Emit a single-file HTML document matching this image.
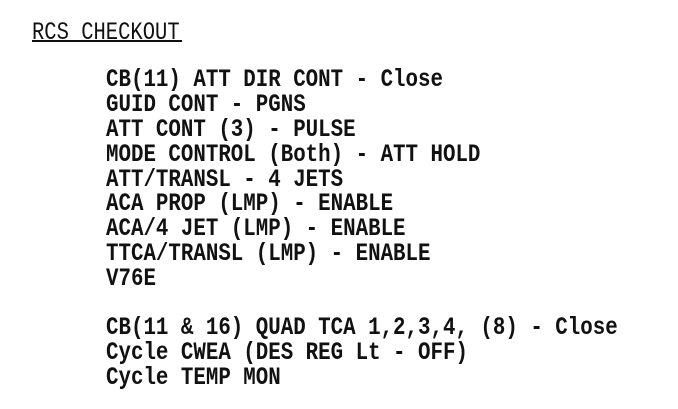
<!DOCTYPE html>
<html><head><style>
html,body{margin:0;padding:0;background:#fff;}
body{width:678px;height:409px;position:relative;overflow:hidden;}
.l{position:absolute;font-family:"Liberation Mono",monospace;font-size:20.8px;line-height:20px;font-weight:bold;color:#111;white-space:pre;transform:scaleY(1.2);transform-origin:0 0;}
.t{font-weight:normal;font-size:20.5px;}
.u{position:absolute;left:32px;top:40px;width:150px;height:2px;background:#111;}
</style></head><body>
<div class="l t" style="left:32px;top:22px;">RCS CHECKOUT</div>
<div class="u"></div>
<div class="l" style="left:106px;top:69px;">CB(11) ATT DIR CONT - Close</div>
<div class="l" style="left:106px;top:94px;">GUID CONT - PGNS</div>
<div class="l" style="left:106px;top:119px;">ATT CONT (3) - PULSE</div>
<div class="l" style="left:106px;top:144px;">MODE CONTROL (Both) - ATT HOLD</div>
<div class="l" style="left:106px;top:169px;">ATT/TRANSL - 4 JETS</div>
<div class="l" style="left:106px;top:193px;">ACA PROP (LMP) - ENABLE</div>
<div class="l" style="left:106px;top:218px;">ACA/4 JET (LMP) - ENABLE</div>
<div class="l" style="left:106px;top:243px;">TTCA/TRANSL (LMP) - ENABLE</div>
<div class="l" style="left:106px;top:268px;">V76E</div>
<div class="l" style="left:106px;top:317px;">CB(11 &amp; 16) QUAD TCA 1,2,3,4, (8) - Close</div>
<div class="l" style="left:106px;top:342px;">Cycle CWEA (DES REG Lt - OFF)</div>
<div class="l" style="left:106px;top:367px;">Cycle TEMP MON</div>
</body></html>
